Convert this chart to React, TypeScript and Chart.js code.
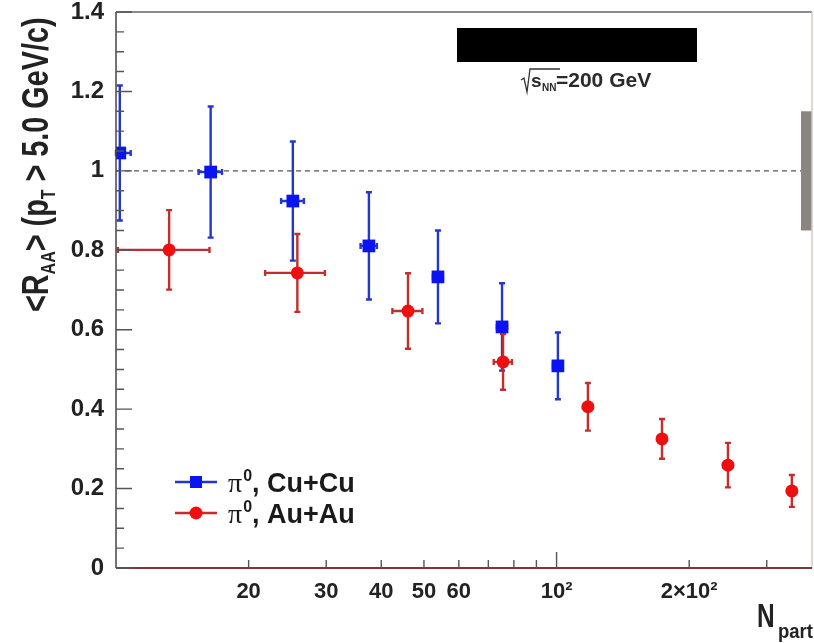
import React, { useEffect, useRef } from 'react';
import { Chart, registerables } from 'chart.js';

Chart.register(...registerables);

// ---------- data ----------
const cuNpart = [10.2, 16.4, 25.2, 37.5, 53.8, 75.2, 100.7];
const cuNpartErr = [0.6, 1.0, 1.5, 1.6, 1.4, 2.0, 2.6];
const cuRaa = [1.045, 0.997, 0.924, 0.811, 0.733, 0.607, 0.509];
const cuRaaErr = [0.17, 0.165, 0.15, 0.135, 0.117, 0.11, 0.084];

const auNpart = [13.2, 25.8, 46.0, 75.6, 117.8, 173.5, 244.9, 342];
const auNpartErr = [3.1, 4.0, 3.6, 3.6, 3, 4, 6, 8];
const auRaa = [0.801, 0.743, 0.647, 0.519, 0.406, 0.325, 0.259, 0.194];
const auRaaErr = [0.1, 0.098, 0.095, 0.07, 0.06, 0.05, 0.056, 0.04];

const xTickValues = [20, 30, 40, 50, 60, 70, 80, 90, 100, 200, 300];
const xTickLabels = ['20', '30', '40', '50', '60', '', '', '', '10²', '2×10²', ''];
const xLongTicks = [100];
const xMin = 10;
const xMax = 380;
const yMin = 0;
const yMax = 1.4;
const yMajorStep = 0.2;
const yMinorStep = 0.05;
const referenceLine = 1;
const normUncertainty = 0.15;

const seriesLabels = ['Cu+Cu', 'Au+Au'];
const energyLabel = '=200 GeV';

const BLUE = 'rgb(10,20,240)';
const BLUE_BAR = 'rgb(35,55,205)';
const RED = 'rgb(240,15,15)';
const RED_BAR = 'rgb(195,45,45)';
const SANS = "'Liberation Sans', Arial, Helvetica, sans-serif";

type Seg = { t: string; size: number; dy?: number; font?: string; weight?: string };

function drawSegs(ctx: CanvasRenderingContext2D, segs: Seg[], condense: number) {
  let x = 0;
  for (const s of segs) {
    ctx.font = `${s.weight ?? 'bold'} ${s.size}px ${s.font ?? SANS}`;
    ctx.save();
    ctx.scale(condense, 1);
    ctx.fillText(s.t, x / condense, s.dy ?? 0);
    ctx.restore();
    x += ctx.measureText(s.t).width * condense;
  }
  return x;
}

const overlay = {
  id: 'overlay',
  beforeDatasetsDraw(chart: any) {
    const { ctx, chartArea: a, scales } = chart;
    const xs = scales.x;
    const ys = scales.y;
    ctx.save();
    // reference dashed line
    ctx.strokeStyle = '#555';
    ctx.lineWidth = 1.3;
    ctx.setLineDash([5, 4]);
    const y1 = ys.getPixelForValue(referenceLine);
    ctx.beginPath();
    ctx.moveTo(a.left, y1);
    ctx.lineTo(a.right, y1);
    ctx.stroke();
    ctx.setLineDash([]);
    // normalisation uncertainty box
    ctx.fillStyle = 'rgb(138,133,128)';
    const bt = ys.getPixelForValue(referenceLine + normUncertainty);
    const bb = ys.getPixelForValue(referenceLine - normUncertainty);
    ctx.fillRect(a.right - 11, bt, 11, bb - bt);
    // error bars
    chart.data.datasets.forEach((ds: any) => {
      ctx.strokeStyle = ds.barColor;
      ctx.lineWidth = 2.4;
      ds.data.forEach((p: any, j: number) => {
        const px = xs.getPixelForValue(p.x);
        const py = ys.getPixelForValue(p.y);
        const yt = ys.getPixelForValue(p.y + ds.errY[j]);
        const yb = ys.getPixelForValue(p.y - ds.errY[j]);
        const xl = Math.max(a.left, xs.getPixelForValue(p.x - ds.errX[j]));
        const xr = xs.getPixelForValue(p.x + ds.errX[j]);
        ctx.beginPath();
        ctx.moveTo(px, yt);
        ctx.lineTo(px, yb);
        ctx.moveTo(xl, py);
        ctx.lineTo(xr, py);
        ctx.moveTo(px - 3, yt);
        ctx.lineTo(px + 3, yt);
        ctx.moveTo(px - 3, yb);
        ctx.lineTo(px + 3, yb);
        ctx.moveTo(xl, py - 3);
        ctx.lineTo(xl, py + 3);
        ctx.moveTo(xr, py - 3);
        ctx.lineTo(xr, py + 3);
        ctx.stroke();
      });
    });
    ctx.restore();
  },
  afterDraw(chart: any) {
    const { ctx, chartArea: a, scales } = chart;
    const xs = scales.x;
    const ys = scales.y;
    ctx.save();
    // frame
    ctx.lineWidth = 1.5;
    ctx.strokeStyle = '#666';
    ctx.beginPath();
    ctx.moveTo(a.left, a.top);
    ctx.lineTo(a.right, a.top);
    ctx.stroke();
    ctx.strokeStyle = '#e3c4c4';
    ctx.beginPath();
    ctx.moveTo(a.right, a.top);
    ctx.lineTo(a.right, a.bottom);
    ctx.stroke();
    ctx.strokeStyle = '#444';
    ctx.beginPath();
    ctx.moveTo(a.left, a.top);
    ctx.lineTo(a.left, a.bottom);
    ctx.stroke();
    ctx.strokeStyle = 'rgb(125,55,55)';
    ctx.lineWidth = 2;
    ctx.beginPath();
    ctx.moveTo(a.left, a.bottom);
    ctx.lineTo(a.right, a.bottom);
    ctx.stroke();
    // y ticks (inside)
    ctx.strokeStyle = '#555';
    ctx.lineWidth = 1.4;
    ctx.beginPath();
    for (let k = 0; k * yMinorStep <= yMax - yMin + 1e-9; k++) {
      const v = yMin + k * yMinorStep;
      const r = v / yMajorStep;
      const major = Math.abs(r - Math.round(r)) < 1e-6;
      const py = ys.getPixelForValue(v);
      ctx.moveTo(a.left, py);
      ctx.lineTo(a.left + (major ? 16 : 8), py);
    }
    // x ticks (inside)
    xTickValues.forEach((v) => {
      const px = xs.getPixelForValue(v);
      ctx.moveTo(px, a.bottom);
      ctx.lineTo(px, a.bottom - (xLongTicks.includes(v) ? 16 : 8));
    });
    ctx.stroke();

    // y title
    ctx.fillStyle = '#222';
    ctx.save();
    ctx.translate(48, 312);
    ctx.rotate(-Math.PI / 2);
    ctx.textBaseline = 'alphabetic';
    drawSegs(
      ctx,
      [
        { t: '<R', size: 36 },
        { t: 'AA', size: 20, dy: 7 },
        { t: '> (p', size: 36 },
        { t: 'T', size: 20, dy: 7 },
        { t: ' > 5.0 GeV/c)', size: 36 },
      ],
      0.8
    );
    ctx.restore();

    // x title
    ctx.save();
    ctx.translate(757, 627);
    drawSegs(ctx, [{ t: 'N', size: 34 }], 0.72);
    ctx.translate(21, 11);
    drawSegs(ctx, [{ t: 'part', size: 21 }], 0.88);
    ctx.restore();

    // black box
    ctx.fillStyle = '#000';
    ctx.fillRect(457, 28, 240, 34);

    // sqrt(s_NN)=200 GeV
    ctx.strokeStyle = '#333';
    ctx.lineWidth = 1.3;
    ctx.beginPath();
    ctx.moveTo(521, 80);
    ctx.lineTo(524, 78);
    ctx.lineTo(527, 92);
    ctx.lineTo(530, 69);
    ctx.lineTo(560, 69);
    ctx.stroke();
    ctx.fillStyle = '#2a2a2a';
    ctx.save();
    ctx.translate(531, 87);
    drawSegs(ctx, [{ t: 's', size: 19 }], 1);
    ctx.translate(11, 4);
    drawSegs(ctx, [{ t: 'NN', size: 10 }], 1);
    ctx.restore();
    ctx.save();
    ctx.translate(556, 87);
    drawSegs(ctx, [{ t: energyLabel, size: 21 }], 1);
    ctx.restore();

    // legend
    const rows = [
      { y: 482, color: BLUE, bar: BLUE_BAR, style: 'rect', label: seriesLabels[0] },
      { y: 513, color: RED, bar: RED_BAR, style: 'circle', label: seriesLabels[1] },
    ];
    rows.forEach((r) => {
      ctx.strokeStyle = r.bar;
      ctx.lineWidth = 2.4;
      ctx.beginPath();
      ctx.moveTo(175, r.y);
      ctx.lineTo(217, r.y);
      ctx.stroke();
      ctx.fillStyle = r.color;
      if (r.style === 'rect') {
        ctx.fillRect(190, r.y - 6, 12, 12);
      } else {
        ctx.beginPath();
        ctx.arc(196, r.y, 6.5, 0, Math.PI * 2);
        ctx.fill();
      }
      ctx.fillStyle = '#1a1a1a';
      ctx.save();
      ctx.translate(228, r.y + 10);
      const w = drawSegs(ctx, [{ t: 'π', size: 28, font: "'Liberation Serif', serif", weight: 'normal' }], 1);
      ctx.translate(w + 1, -11);
      const w2 = drawSegs(ctx, [{ t: '0', size: 16 }], 1);
      ctx.translate(w2, 11);
      drawSegs(ctx, [{ t: ', ' + r.label, size: 27 }], 1);
      ctx.restore();
    });
    ctx.restore();
  },
};

export default function App() {
  const ref = useRef<HTMLCanvasElement | null>(null);
  useEffect(() => {
    if (!ref.current) return;
    const chart = new Chart(ref.current, {
      type: 'scatter',
      data: {
        datasets: [
          {
            label: seriesLabels[0],
            data: cuNpart.map((x, i) => ({ x, y: cuRaa[i] })),
            errX: cuNpartErr,
            errY: cuRaaErr,
            barColor: BLUE_BAR,
            pointStyle: 'rect',
            pointRadius: 9,
            backgroundColor: BLUE,
            borderColor: BLUE,
            borderWidth: 0,
            showLine: false,
          } as any,
          {
            label: seriesLabels[1],
            data: auNpart.map((x, i) => ({ x, y: auRaa[i] })),
            errX: auNpartErr,
            errY: auRaaErr,
            barColor: RED_BAR,
            pointStyle: 'circle',
            pointRadius: 6.5,
            backgroundColor: RED,
            borderColor: RED,
            borderWidth: 0,
            showLine: false,
          } as any,
        ],
      },
      options: {
        animation: false,
        responsive: false,
        layout: { autoPadding: false, padding: { left: 0, right: 2, top: 12, bottom: 0 } },
        plugins: {
          legend: { display: false },
          tooltip: { enabled: false },
          title: { display: false },
        },
        scales: {
          x: {
            type: 'logarithmic',
            min: xMin,
            max: xMax,
            grid: { display: false, drawTicks: false },
            border: { display: false },
            afterBuildTicks: (s: any) => {
              s.ticks = xTickValues.map((v) => ({ value: v }));
            },
            afterFit: (s: any) => {
              s.height = 75;
              s.paddingLeft = 0;
              s.paddingRight = 0;
            },
            ticks: {
              autoSkip: false,
              maxRotation: 0,
              minRotation: 0,
              padding: 11,
              color: '#222',
              font: { family: SANS, weight: 'bold', size: 22 },
              callback: (v: any) => {
                const i = xTickValues.indexOf(Number(v));
                return i >= 0 ? xTickLabels[i] : '';
              },
            },
          },
          y: {
            min: yMin,
            max: yMax,
            grid: { display: false, drawTicks: false },
            border: { display: false },
            afterFit: (s: any) => {
              s.width = 116;
              s.paddingTop = 0;
              s.paddingBottom = 0;
            },
            ticks: {
              stepSize: yMajorStep,
              padding: 12,
              color: '#222',
              font: { family: SANS, weight: 'bold', size: 24 },
              callback: (v: any) => String(Number(Number(v).toFixed(1))),
            },
          },
        },
      } as any,
      plugins: [overlay],
    });
    return () => chart.destroy();
  }, []);
  return (
    <div style={{ position: 'absolute', left: 0, top: 0, width: 814, height: 643, background: '#fff' }}>
      <canvas ref={ref} width={814} height={643} style={{ display: 'block' }} />
    </div>
  );
}
